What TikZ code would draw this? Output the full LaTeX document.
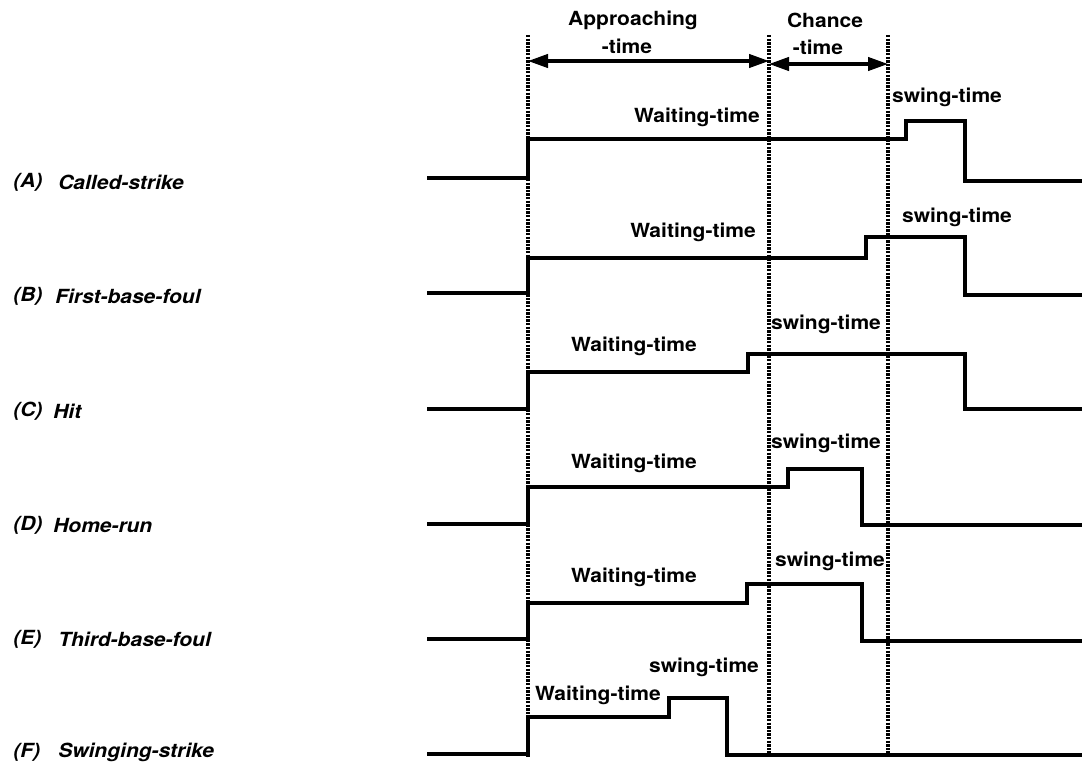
\documentclass[tikz,border=0pt]{standalone}
\usepackage{fontspec}
\setmainfont{TeX Gyre Heros}[FakeStretch=1.08]
\usetikzlibrary{arrows.meta}
\begin{document}
\begin{tikzpicture}[x=0.75pt,y=-0.75pt,
  wave/.style={line width=2.6pt,line join=miter},
  guide/.style={line width=2.6pt,dash pattern=on 1.8pt off 0.9pt},
  span/.style={line width=2.4pt,{Triangle[length=15pt,width=10pt]}-{Triangle[length=15pt,width=10pt]}},
  lbl/.style={font=\fontsize{14.6}{16}\selectfont\bfseries,inner sep=0pt},
  caseid/.style={font=\fontsize{14.6}{16}\selectfont\bfseries\itshape,inner sep=0pt,anchor=west}]
\useasboundingbox (0,0) rectangle (1082,768);
% guides
\coordinate (g1t) at (528,35); \coordinate (g1b) at (528,757);
\coordinate (g2t) at (769,35); \coordinate (g2b) at (769,757);
\coordinate (g3t) at (888,35); \coordinate (g3b) at (888,757);
\draw[guide] (g1t) -- (g1b);
\draw[guide] (g2t) -- (g2b);
\draw[guide] (g3t) -- (g3b);
% header
\node[lbl] (appr) at (633,20) {Approaching};
\node[lbl] (apprt) at (627,46) {-time};
\node[lbl] (chan) at (825,20) {Chance};
\node[lbl] (chant) at (818,47) {-time};
\coordinate (a1) at (528,61); \coordinate (a2) at (769,61);
\coordinate (c1) at (769,64); \coordinate (c2) at (888,64);
\draw[span] (a1) -- (a2);
\draw[span] (c1) -- (c2);
% case labels
\node[caseid] (la) at (13,182) {(A)}; \node[caseid] (na) at (58,182) {Called-strike};
\node[caseid] (lb) at (13,296) {(B)}; \node[caseid] (nb) at (55,296) {First-base-foul};
\node[caseid] (lc) at (13,411) {(C)}; \node[caseid] (nc) at (53,411) {Hit};
\node[caseid] (ld) at (13,525) {(D)}; \node[caseid] (nd) at (53,525) {Home-run};
\node[caseid] (le) at (13,639) {(E)}; \node[caseid] (ne) at (58,639) {Third-base-foul};
\node[caseid] (lf) at (13,752) {(F)}; \node[caseid] (nf) at (58,752) {Swinging-strike};
% waveforms
\draw[wave] (427,178) -- (528,178) -- (528,139) -- (906,139) -- (906,121) -- (965,121) -- (965,181) -- (1082,181);
\draw[wave] (427,293) -- (528,293) -- (528,258) -- (866,258) -- (866,237) -- (965,237) -- (965,295) -- (1082,295);
\draw[wave] (427,409) -- (528,409) -- (528,372) -- (748,372) -- (748,354) -- (965,354) -- (965,409) -- (1082,409);
\draw[wave] (427,524) -- (528,524) -- (528,487) -- (788,487) -- (788,469) -- (862,469) -- (862,525) -- (1082,525);
\draw[wave] (427,639) -- (528,639) -- (528,603) -- (747,603) -- (747,584) -- (862,584) -- (862,641) -- (1082,641);
\draw[wave] (427,754) -- (528,754) -- (528,717) -- (669,717) -- (669,698) -- (727,698) -- (727,755) -- (1082,755);
% waveform labels
\node[lbl] (wa) at (697,117) {Waiting-time}; \node[lbl] (sa) at (947,97) {swing-time};
\node[lbl] (wb) at (693,232) {Waiting-time}; \node[lbl] (sb) at (957,217) {swing-time};
\node[lbl] (wc) at (634,346) {Waiting-time}; \node[lbl] (sc) at (826,324) {swing-time};
\node[lbl] (wd) at (634,463) {Waiting-time}; \node[lbl] (sd) at (826,443) {swing-time};
\node[lbl] (we) at (634,577) {Waiting-time}; \node[lbl] (se) at (830,561) {swing-time};
\node[lbl] (wf) at (598,695) {Waiting-time}; \node[lbl] (sf) at (704,667) {swing-time};
\end{tikzpicture}
\end{document}
